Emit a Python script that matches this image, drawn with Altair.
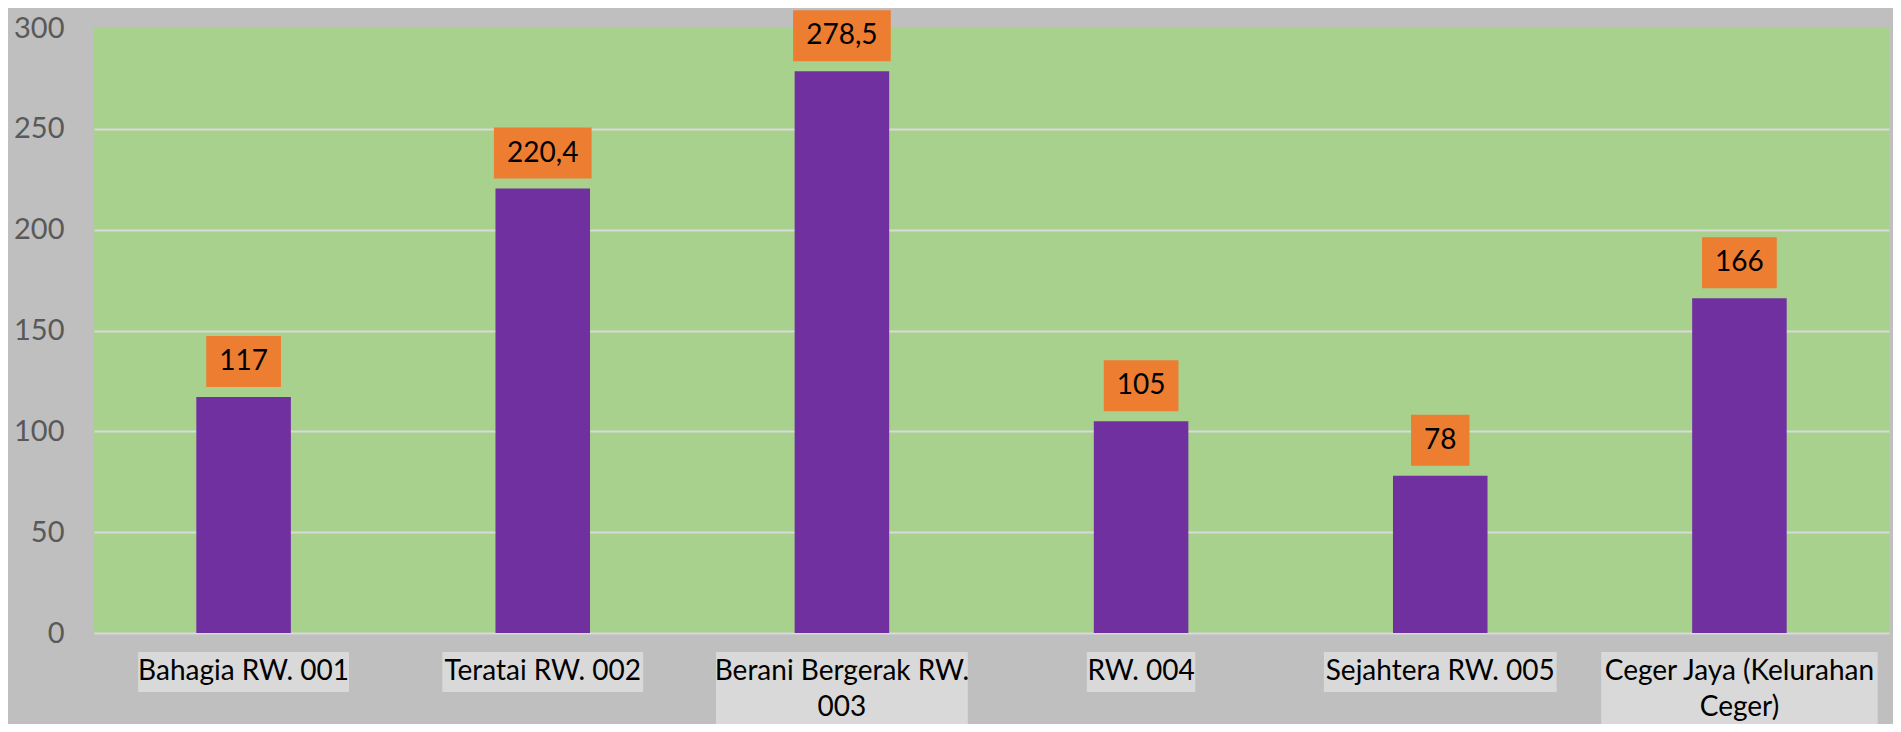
import altair as alt
import pandas as pd

categories = ["Bahagia RW. 001", "Teratai RW. 002", "Berani Bergerak RW. 003",
              "RW. 004", "Sejahtera RW. 005", "Ceger Jaya (Kelurahan Ceger)"]
values = [117, 220.4, 278.5, 105, 78, 166]
value_labels = ["117", "220,4", "278,5", "105", "78", "166"]
axis_label_lines = [["Bahagia RW. 001"], ["Teratai RW. 002"], ["Berani Bergerak RW.", "003"],
                    ["RW. 004"], ["Sejahtera RW. 005"], ["Ceger Jaya (Kelurahan", "Ceger)"]]
y_ticks = [0, 50, 100, 150, 200, 250, 300]

W, H = 1795, 605
FONT = "Lato"
FS = 28
LINE_H = 36
LABEL_TOP = H + 19


def est_width(s, fs):
    w = 0.0
    for ch in s:
        if ch in "il.,:;'|!":
            w += 0.24
        elif ch in "()":
            w += 0.31
        elif ch == " ":
            w += 0.2
        elif ch in "jfrt":
            w += 0.34
        elif ch.isdigit():
            w += 0.58
        elif ch == "W":
            w += 0.93
        elif ch == "M":
            w += 0.85
        elif ch.isupper():
            w += 0.62
        elif ch in "mw":
            w += 0.78
        else:
            w += 0.52
    return w * fs


rows = []
for c, v, lab, lines in zip(categories, values, value_labels, axis_label_lines):
    rows.append({
        "cat": c,
        "value": v,
        "vlabel": lab,
        "boxw": est_width(lab, FS) + 26,
        "lines": lines,
        "lblw": max(est_width(l, FS) for l in lines) + 4,
        "ly1": LABEL_TOP,
        "ly2": LABEL_TOP + LINE_H * len(lines) + 4,
    })
df = pd.DataFrame(rows)

xenc = alt.X("cat:N", sort=categories,
             scale=alt.Scale(paddingInner=0.684, paddingOuter=0.342), axis=None)

base = alt.Chart(df).encode(x=xenc)

bars = base.mark_bar(color="#7030A0").encode(
    y=alt.Y("value:Q", scale=alt.Scale(domain=[0, 300], nice=False),
            axis=alt.Axis(values=y_ticks, title=None, ticks=False, domain=False,
                          labelFont=FONT, labelFontSize=29, labelColor="#595959",
                          labelPadding=30, gridColor="#D9D9D9", gridWidth=2,
                          gridOpacity={"condition": {"test": "datum.value === 300", "value": 0}, "value": 1}))
)

label_boxes = base.mark_bar(color="#ED7D31", yOffset=-61, y2Offset=-10).encode(
    y="value:Q", y2="value:Q", size=alt.Size("boxw:Q", scale=None)
)

label_text = base.mark_text(font=FONT, fontSize=FS, color="black", baseline="middle", dy=-35).encode(
    y="value:Q", text="vlabel:N"
)

xlab_boxes = base.mark_bar(color="#D9D9D9").encode(
    y=alt.Y("ly1:Q", scale=None), y2="ly2:Q", size=alt.Size("lblw:Q", scale=None)
)

xlab_text = base.mark_text(font=FONT, fontSize=FS, color="black", baseline="line-top",
                           lineHeight=LINE_H, align="center", dy=2).encode(
    y=alt.value(LABEL_TOP), text="lines"
)

chart = alt.layer(bars, label_boxes, label_text, xlab_boxes, xlab_text).properties(
    width=W, height=H,
    padding={"left": 86, "top": 20, "right": 4, "bottom": 91},
    autosize=alt.AutoSizeParams(type="none"),
    background="#BFBFBF",
).configure_view(fill="#A9D18E", stroke=None)

chart.save("out.html", embed_options={"renderer": "svg", "actions": False})
